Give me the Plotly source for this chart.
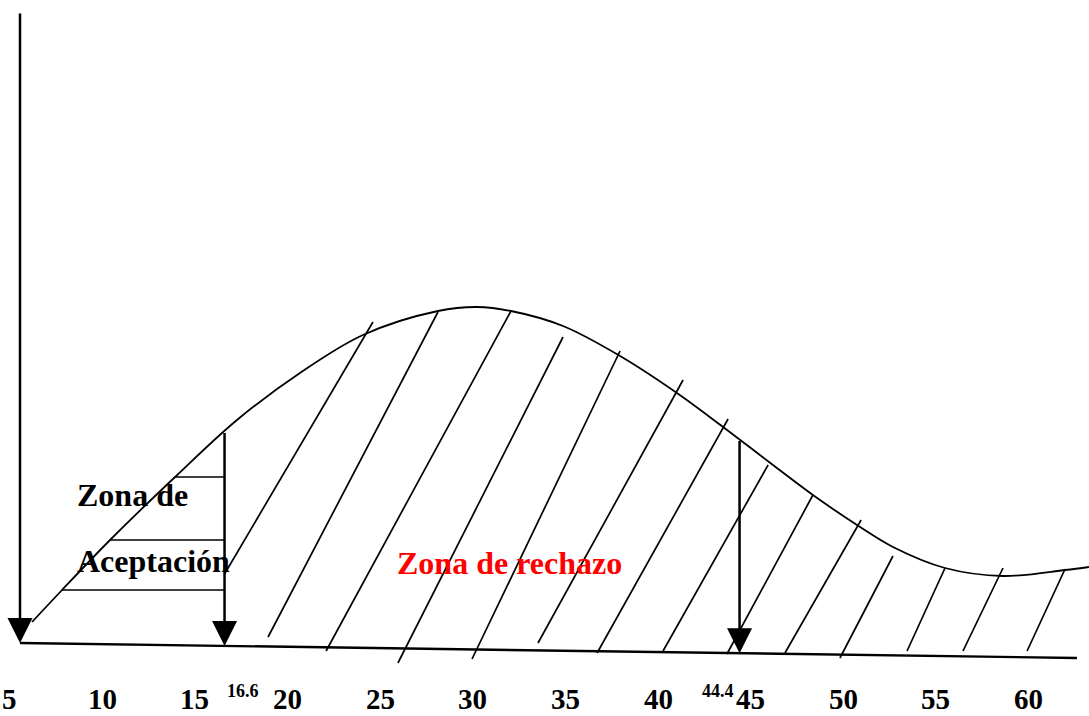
import numpy as np
import plotly.graph_objects as go

# ---- data (x in value units, y in arbitrary height units) ----
TICK_VALUES = [5, 10, 15, 20, 25, 30, 35, 40, 45, 50, 55, 60]
TICK_LABELS = ["5", "10", "15", "20", "25", "30", "35", "40", "45", "50", "55", "60"]
CRITICAL_VALUES = [16.6, 44.4]
CRITICAL_LABELS = ["16.6", "44.4"]

CURVE_X = [6.21, 7.83, 10.42, 13.93, 17.27, 20.67, 24.07, 28.12, 30.23, 32.06, 34.87,
           37.95, 41.02, 43.51, 45.99, 48.36, 50.74, 52.68, 55.49, 58.62, 61.97, 63.26]
CURVE_Y = [94, 126, 176, 239, 296, 343, 381, 405, 409, 405, 390,
           360, 323, 289, 254, 221, 191, 169, 148, 140, 146, 149]

BASE_X = [5.56, 62.61]
BASE_Y = [73, 58]

YAXIS_X = [5.56, 5.56]
YAXIS_Y = [704, 73]

ACCEPT_LEVELS = [239, 176, 126]

HATCH_X0 = [16.60, 18.95, 22.08, 25.96, 29.96, 33.52, 36.71, 40.27, 43.72, 46.85, 49.82, 53.44, 56.46, 59.92]
HATCH_Y0 = [142, 79, 65, 53, 57, 73, 63, 65, 62, 63, 58, 65, 65, 65]
HATCH_X1 = [24.61, 28.12, 32.06, 34.87, 37.95, 41.35, 43.78, 45.94, 48.36, 50.96, 52.68, 55.49, 58.62, 61.97]
HATCH_Y1 = [394, 404, 405, 379, 365, 336, 297, 251, 221, 196, 160, 148, 148, 147]

ZONE_ACCEPT_TEXT = ["Zona de", "Aceptación"]
ZONE_ACCEPT_POS = [(8.55, 221), (8.55, 155)]
ZONE_REJECT_TEXT = "Zona de rechazo"
ZONE_REJECT_POS = (32.0, 153)

FONT = "Liberation Serif, Times New Roman, serif"

fig = go.Figure()

# hatch lines (rejection zone)
hx, hy = [], []
for x0, y0, x1, y1 in zip(HATCH_X0, HATCH_Y0, HATCH_X1, HATCH_Y1):
    hx += [x0, x1, None]
    hy += [y0, y1, None]
fig.add_trace(go.Scatter(x=hx, y=hy, mode="lines",
                         line=dict(color="black", width=1.7), hoverinfo="skip"))

# acceptance horizontal lines
peak = int(np.argmax(CURVE_Y))
ax_, ay_ = [], []
for lvl in ACCEPT_LEVELS:
    xs = float(np.interp(lvl, CURVE_Y[:peak + 1], CURVE_X[:peak + 1]))
    ax_ += [xs, CRITICAL_VALUES[0], None]
    ay_ += [lvl, lvl, None]
fig.add_trace(go.Scatter(x=ax_, y=ay_, mode="lines",
                         line=dict(color="black", width=1.7), hoverinfo="skip"))

# curve
fig.add_trace(go.Scatter(x=CURVE_X, y=CURVE_Y, mode="lines",
                         line=dict(color="black", width=1.8, shape="spline", smoothing=1.0),
                         hoverinfo="skip"))

# baseline
fig.add_trace(go.Scatter(x=BASE_X, y=BASE_Y, mode="lines",
                         line=dict(color="black", width=2.4), hoverinfo="skip"))

annotations = []
# vertical axis arrow
annotations.append(dict(x=YAXIS_X[1], y=YAXIS_Y[1], ax=YAXIS_X[0], ay=YAXIS_Y[0],
                        xref="x", yref="y", axref="x", ayref="y", text="",
                        showarrow=True, arrowhead=2, arrowsize=2.0, arrowwidth=2.5,
                        arrowcolor="black"))
# critical value arrows
for cv in CRITICAL_VALUES:
    top = float(np.interp(cv, CURVE_X, CURVE_Y))
    tip = float(np.interp(cv, BASE_X, BASE_Y))
    annotations.append(dict(x=cv, y=tip, ax=cv, ay=top,
                            xref="x", yref="y", axref="x", ayref="y", text="",
                            showarrow=True, arrowhead=2, arrowsize=2.0, arrowwidth=2.5,
                            arrowcolor="black"))

# tick labels
for v, t in zip(TICK_VALUES, TICK_LABELS):
    annotations.append(dict(x=v, y=17, xref="x", yref="y", text=f"<b>{t}</b>",
                            showarrow=False, font=dict(family=FONT, size=29, color="black"),
                            xanchor="center", yanchor="middle"))
# critical labels
for cv, t, xa, xs in zip(CRITICAL_VALUES, CRITICAL_LABELS, ["left", "right"], [0, -4]):
    annotations.append(dict(x=cv, y=25, xref="x", yref="y", text=f"<b>{t}</b>",
                            showarrow=False, font=dict(family=FONT, size=18, color="black"),
                            xanchor=xa, yanchor="middle", xshift=xs))

# zone labels
for t, (x, y) in zip(ZONE_ACCEPT_TEXT, ZONE_ACCEPT_POS):
    annotations.append(dict(x=x, y=y, xref="x", yref="y", text=f"<b>{t}</b>",
                            showarrow=False, font=dict(family=FONT, size=32, color="black"),
                            xanchor="left", yanchor="middle"))
annotations.append(dict(x=ZONE_REJECT_POS[0], y=ZONE_REJECT_POS[1], xref="x", yref="y",
                        text=f"<b>{ZONE_REJECT_TEXT}</b>", showarrow=False,
                        font=dict(family=FONT, size=32, color="#ff0000"),
                        xanchor="center", yanchor="middle"))

fig.update_layout(
    width=1089, height=716,
    margin=dict(l=0, r=0, t=0, b=0),
    paper_bgcolor="white", plot_bgcolor="white",
    showlegend=False,
    annotations=annotations,
    xaxis=dict(range=[4.480, 63.262], visible=False, fixedrange=True),
    yaxis=dict(range=[0, 716], visible=False, fixedrange=True),
)

fig.write_html("out.html", config={"displayModeBar": False},
               post_script="document.body.style.margin='0px';document.body.style.overflow='hidden';")
